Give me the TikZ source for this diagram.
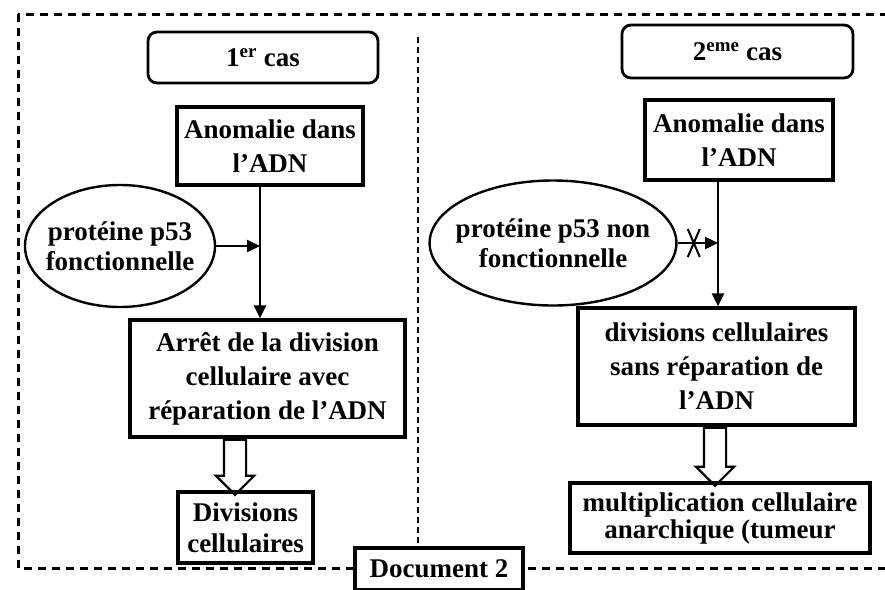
\documentclass[tikz,border=0pt]{standalone}
\usepackage{fontspec}
\setmainfont{Liberation Serif}
\usetikzlibrary{arrows.meta,shapes.geometric,shapes.arrows,shapes.misc}

\begin{document}
\begin{tikzpicture}[x=1pt,y=-1pt,
  every node/.style={font=\bfseries\fontsize{27}{34}\selectfont, align=center, inner sep=2pt},
  box/.style={draw, line width=3.4pt},
  casbox/.style={draw, line width=2.8pt, rounded corners=9pt},
  prot/.style={draw, ellipse, line width=2.4pt, inner xsep=-10pt, inner ysep=2pt,
    font=\bfseries\fontsize{27}{30}\selectfont},
  fleche/.style={line width=2.4pt, -{Triangle[length=13pt,width=12pt]}},
  grosse/.style={draw, single arrow, line width=2.2pt, shape border rotate=270,
    single arrow head extend=8pt, minimum width=38pt, inner sep=10pt},
  cadre/.style={line width=3pt, dash pattern=on 8pt off 6pt},
  tirets/.style={line width=1.8pt, dash pattern=on 6pt off 4pt}
]
\useasboundingbox (0,0) rectangle (885,589);

% cadre du document
\draw[cadre] (18,14) rectangle (900,568);

% 1er cas
\node[casbox, minimum width=230pt, minimum height=51pt] (cas1) at (263,57.5) {1\textsuperscript{er} cas};
\node[box, minimum width=186pt, minimum height=78pt] (ano1) at (270,146) {Anomalie dans\\l’ADN};
\node[prot, minimum width=190pt, minimum height=122pt] (p1) at (120,246) {protéine p53\\fonctionnelle};
\node[box, minimum width=275pt, minimum height=117pt] (arr1) at (267.5,378.5) {Arrêt de la division\\cellulaire avec\\réparation de l’ADN};
\node[box, minimum width=135pt, minimum height=71pt, font=\bfseries\fontsize{27}{31}\selectfont] (div1) at (245.5,527.5) {Divisions\\cellulaires};

% 2eme cas
\node[casbox, minimum width=231pt, minimum height=53pt] (cas2) at (737.5,51.5) {2\textsuperscript{eme} cas};
\node[box, minimum width=188pt, minimum height=80pt] (ano2) at (739,140) {Anomalie dans\\l’ADN};
\node[prot, minimum width=240pt, minimum height=125pt] (p2) at (553,243) {protéine p53 non\\fonctionnelle};
\node[box, minimum width=277pt, minimum height=117pt] (div2) at (716.5,366.5) {divisions cellulaires\\sans réparation de\\l’ADN};
\node[box, minimum width=300pt, minimum height=70pt, font=\bfseries\fontsize{27}{27}\selectfont] (mult) at (720,518) {multiplication cellulaire\\anarchique (tumeur};

% titre
\node[box, fill=white, minimum width=168pt, minimum height=42pt] (doc) at (439,569) {Document 2};
\coordinate (haut) at (418,37);
\draw[tirets] (haut) -- (haut |- doc.north);

% fleches
\coordinate (j1) at (260,246);
\draw[fleche] (p1.east) -- (j1);
\draw[fleche] (ano1.south -| j1) -- (arr1.north -| j1);
\node[grosse, minimum height=55pt, anchor=tail] (g1) at ([xshift=-32.5pt]arr1.south) {};

\coordinate (j2) at (718,243);
\draw[fleche] (p2.east) -- node[pos=0.4, draw, cross out, line width=2pt, minimum width=10pt, minimum height=26pt, inner sep=0pt] (croix) {} (j2);
\draw[fleche] (ano2.south -| j2) -- (div2.north -| j2);
\node[grosse, minimum height=58pt, anchor=tail] (g2) at ([xshift=-1.5pt]div2.south) {};
\end{tikzpicture}
\end{document}
